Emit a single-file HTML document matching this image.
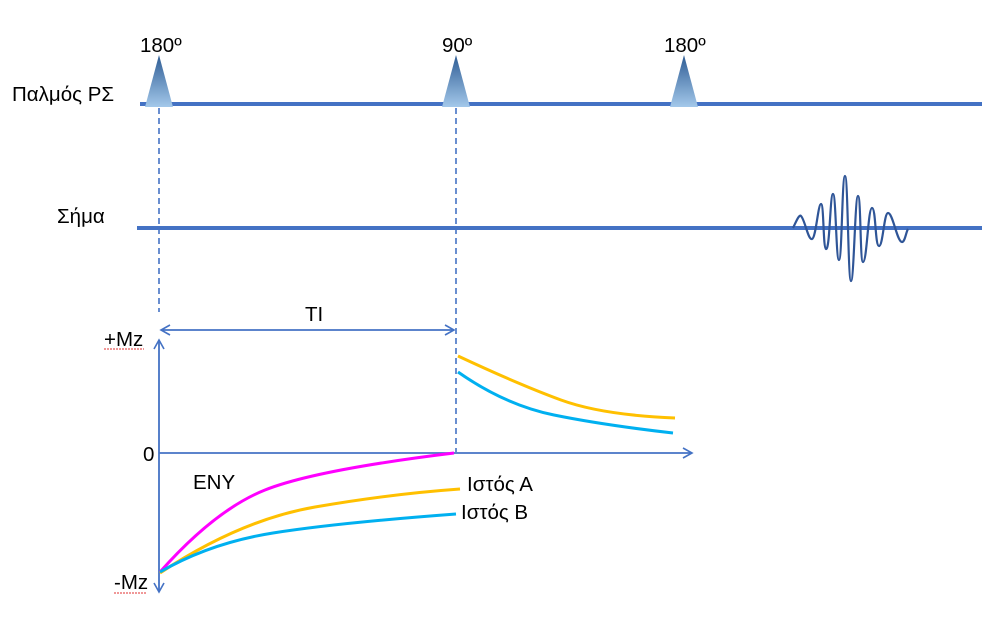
<!DOCTYPE html>
<html><head><meta charset="utf-8"><style>
body{margin:0;background:#fff}
svg{display:block}
text{font-family:"Liberation Sans","DejaVu Sans",sans-serif;fill:#000}
</style></head><body>
<svg width="982" height="617" viewBox="0 0 982 617" xmlns="http://www.w3.org/2000/svg">
<defs>
<linearGradient id="g" x1="0" y1="0" x2="0" y2="1">
<stop offset="0" stop-color="#2e5c94"/><stop offset="1" stop-color="#a3c8ea"/></linearGradient>
<marker id="ar" markerWidth="12" markerHeight="12" refX="10" refY="6" orient="auto-start-reverse" markerUnits="userSpaceOnUse">
<path d="M1,1 L10,6 L1,11" fill="none" stroke="#4472c4" stroke-width="1.6"/></marker>
</defs>
<g font-size="20.5">
<text x="140" y="52">180º</text>
<text x="442" y="52">90º</text>
<text x="664" y="52">180º</text>
<text x="12" y="101">Παλμός ΡΣ</text>
<text x="57" y="223">Σήμα</text>
<text x="104" y="346">+Mz</text>
<text x="143" y="461">0</text>
<text x="114" y="589">-Mz</text>
<text x="305" y="321">TI</text>
<text x="193" y="489">ENY</text>
<text x="467" y="491">Ιστός Α</text>
<text x="461" y="519">Ιστός Β</text>
</g>
<path d="M104,349 h40 M114,593 h32" stroke="#e03030" stroke-width="1" stroke-dasharray="2,1"/>
<line x1="140" y1="104" x2="982" y2="104" stroke="#4472c4" stroke-width="4"/>
<line x1="137" y1="228" x2="982" y2="228" stroke="#4472c4" stroke-width="4"/>
<g fill="url(#g)">
<polygon points="159,55 145,107 173,107"/>
<polygon points="456,55 442,107 470,107"/>
<polygon points="684,55 670,107 698,107"/>
</g>
<g stroke="#4472c4" stroke-width="1.6" stroke-dasharray="6,4">
<line x1="159" y1="108" x2="159" y2="312"/>
<line x1="456" y1="108" x2="456" y2="452"/>
</g>
<g stroke="#4472c4" stroke-width="1.8" fill="none">
<line x1="159" y1="340" x2="159" y2="592" marker-start="url(#ar)" marker-end="url(#ar)"/>
<line x1="159" y1="453" x2="692" y2="453" marker-end="url(#ar)"/>
<line x1="161" y1="330" x2="454" y2="330" marker-start="url(#ar)" marker-end="url(#ar)"/>
</g>
<g fill="none" stroke-width="3">
<path d="M160,572 Q215,510 265,490 T454,453" stroke="#ff00ff"/>
<path d="M160,573 Q240,520 315,507 T460,489" stroke="#ffc000"/>
<path d="M160,572 Q210,543 273,533 T456,514" stroke="#00b0f0"/>
<path d="M458,356 Q520,385 561,400 T675,418" stroke="#ffc000"/>
<path d="M458,372 Q505,405 554,415 T673,433" stroke="#00b0f0"/>
</g>
<path d="M793,228 C796,222 799,214 801,216 C805,220 808,240 812,239 C816,238 818,204 821,204 C824,204 823,248 826,249 C830,250 830,194 833,194 C836,194 836,260 839,260 C842,260 842,176 845,176 C848,176 848,281 851,281 C854,281 855,196 858,196 C861,196 860,262 863,262 C867,262 868,208 872,208 C876,208 875,246 879,246 C883,246 884,213 888,213 C893,213 897,242 902,242 C905,242 906,232 908,229" fill="none" stroke="#2f5597" stroke-width="2.2"/>
</svg>
</body></html>
